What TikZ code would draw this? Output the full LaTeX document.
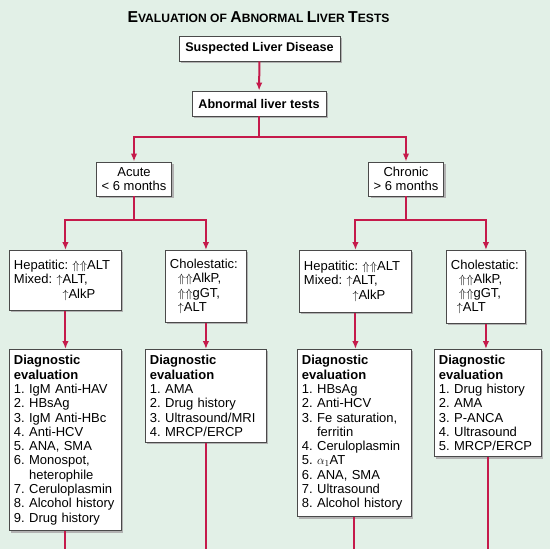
\documentclass[tikz,border=0pt]{standalone}
\usepackage{fontspec}
\setmainfont{Liberation Sans}
\usetikzlibrary{arrows.meta, positioning, shadows}
\definecolor{bgGreen}{HTML}{E2F0E7}
\definecolor{linkRed}{HTML}{C51A4B}
\definecolor{boxGray}{HTML}{4A4A4A}
\newcommand{\up}{$\uparrow$}
\newcommand{\Up}{$\Uparrow$}
\tikzstyle{box} = [rectangle, draw=boxGray, fill=white, line width=0.9pt,
  drop shadow={shadow xshift=2pt, shadow yshift=-2pt, fill=black!30, opacity=1},
  inner xsep=4.5pt, inner ysep=6pt, font=\frenchspacing\fontsize{13}{14.3}\selectfont]
\tikzstyle{list} = [box, anchor=north west, align=left]
\tikzstyle{link} = [draw=linkRed, line width=2pt]
\tikzstyle{arrow} = [link, -{Latex[length=8pt, width=6.5pt]}]

\begin{document}
\begin{tikzpicture}[x=1pt, y=-1pt]
  \fill[bgGreen] (0,0) rectangle (550,549);
  \useasboundingbox (0,0) rectangle (550,549);

  % title
  \node (title) at (258.5,17) {\bfseries\fontsize{15.8}{16}\selectfont E\fontsize{12.1}{12}\selectfont VALUATION OF
    \fontsize{15.8}{16}\selectfont A\fontsize{12.1}{12}\selectfont BNORMAL
    \fontsize{15.8}{16}\selectfont L\fontsize{12.1}{12}\selectfont IVER
    \fontsize{15.8}{16}\selectfont T\fontsize{12.1}{12}\selectfont ESTS};

  % top of the tree
  \node[box, minimum width=161pt, minimum height=25pt, font=\bfseries\fontsize{12.6}{14}\selectfont]
    (suspect) at (259.5,48.5) {Suspected Liver Disease};
  \node[box, minimum width=134pt, minimum height=25pt, font=\bfseries\fontsize{12.6}{14}\selectfont]
    (abnormal) at (259,103.5) {Abnormal liver tests};
  \node[box, minimum width=75pt, minimum height=34pt, align=center, inner ysep=2pt]
    (acute) at (134,179) {Acute\\ < 6 months};
  \node[box, minimum width=75pt, minimum height=34pt, align=center, inner ysep=2pt]
    (chronic) at (406,179) {Chronic\\ > 6 months};

  % patterns
  \node[list, text width=103pt, minimum height=60pt] (hepA) at (9,250)
    {Hepatitic: \Up\Up ALT\\ Mixed: \up ALT,\\ \phantom{Mixed: \up}\up AlkP};
  \node[list, text width=72pt, minimum height=72pt] (cholA) at (165,250)
    {Cholestatic:\\ \hspace*{8pt}\Up\Up AlkP,\\ \hspace*{8pt}\Up\Up gGT,\\ \hspace*{8pt}\up ALT};
  \node[list, text width=103pt, minimum height=62pt] (hepC) at (299,250)
    {Hepatitic: \Up\Up ALT\\ Mixed: \up ALT,\\ \phantom{Mixed: \up}\up AlkP};
  \node[list, text width=70pt, minimum height=73pt] (cholC) at (446,250)
    {Cholestatic:\\ \hspace*{8pt}\Up\Up AlkP,\\ \hspace*{8pt}\Up\Up gGT,\\ \hspace*{6pt}\up ALT};

  % diagnostic evaluation
  \node[list, text width=103pt] (diagA1) at (9,349)
    {\textbf{Diagnostic}\\ \textbf{evaluation}\\
     1. IgM Anti-HAV\\ 2. HBsAg\\ 3. IgM Anti-HBc\\ 4. Anti-HCV\\ 5. ANA, SMA\\
     6. Monospot,\\ \phantom{6. }heterophile\\ 7. Ceruloplasmin\\ 8. Alcohol history\\ 9. Drug history};
  \node[list, text width=112pt] (diagA2) at (145,349)
    {\textbf{Diagnostic}\\ \textbf{evaluation}\\
     1. AMA\\ 2. Drug history\\ 3. Ultrasound/MRI\\ 4. MRCP/ERCP};
  \node[list, text width=105pt] (diagC1) at (297,349)
    {\textbf{Diagnostic}\\ \textbf{evaluation}\\
     1. HBsAg\\ 2. Anti-HCV\\ 3. Fe saturation,\\ \phantom{3. }ferritin\\ 4. Ceruloplasmin\\
     5. $\alpha_1$AT\\ 6. ANA, SMA\\ 7. Ultrasound\\ 8. Alcohol history};
  \node[list, text width=98pt] (diagC2) at (434,349)
    {\textbf{Diagnostic}\\ \textbf{evaluation}\\
     1. Drug history\\ 2. AMA\\ 3. P-ANCA\\ 4. Ultrasound\\ 5. MRCP/ERCP};

  % branch points and loose ends
  \coordinate (forkTop) at (259,137);
  \coordinate (forkA) at (134,220);
  \coordinate (forkC) at (406,220);
  \coordinate (endA1) at (diagA1.south |- 0,549);
  \coordinate (endA2) at (diagA2.south |- 0,549);
  \coordinate (endC1) at (diagC1.south |- 0,549);
  \coordinate (endC2) at (diagC2.south |- 0,549);

  % connectors
  \draw[arrow] (suspect) -- (abnormal);
  \draw[link] (abnormal) -- (forkTop);
  \draw[arrow] (forkTop) -| (acute.north);
  \draw[arrow] (forkTop) -| (chronic.north);
  \draw[link] (acute) -- (forkA);
  \draw[arrow] (forkA) -| (hepA.north);
  \draw[arrow] (forkA) -| (cholA.north);
  \draw[link] (chronic) -- (forkC);
  \draw[arrow] (forkC) -| (hepC.north);
  \draw[arrow] (forkC) -| (cholC.north);
  \draw[arrow] (hepA) -- (hepA.south |- diagA1.north);
  \draw[arrow] (cholA) -- (cholA.south |- diagA2.north);
  \draw[arrow] (hepC) -- (hepC.south |- diagC1.north);
  \draw[arrow] (cholC) -- (cholC.south |- diagC2.north);
  \draw[link] (diagA1) -- (endA1);
  \draw[link] (diagA2) -- (endA2);
  \draw[link] (diagC1) -- (endC1);
  \draw[link] (diagC2) -- (endC2);
\end{tikzpicture}
\end{document}
